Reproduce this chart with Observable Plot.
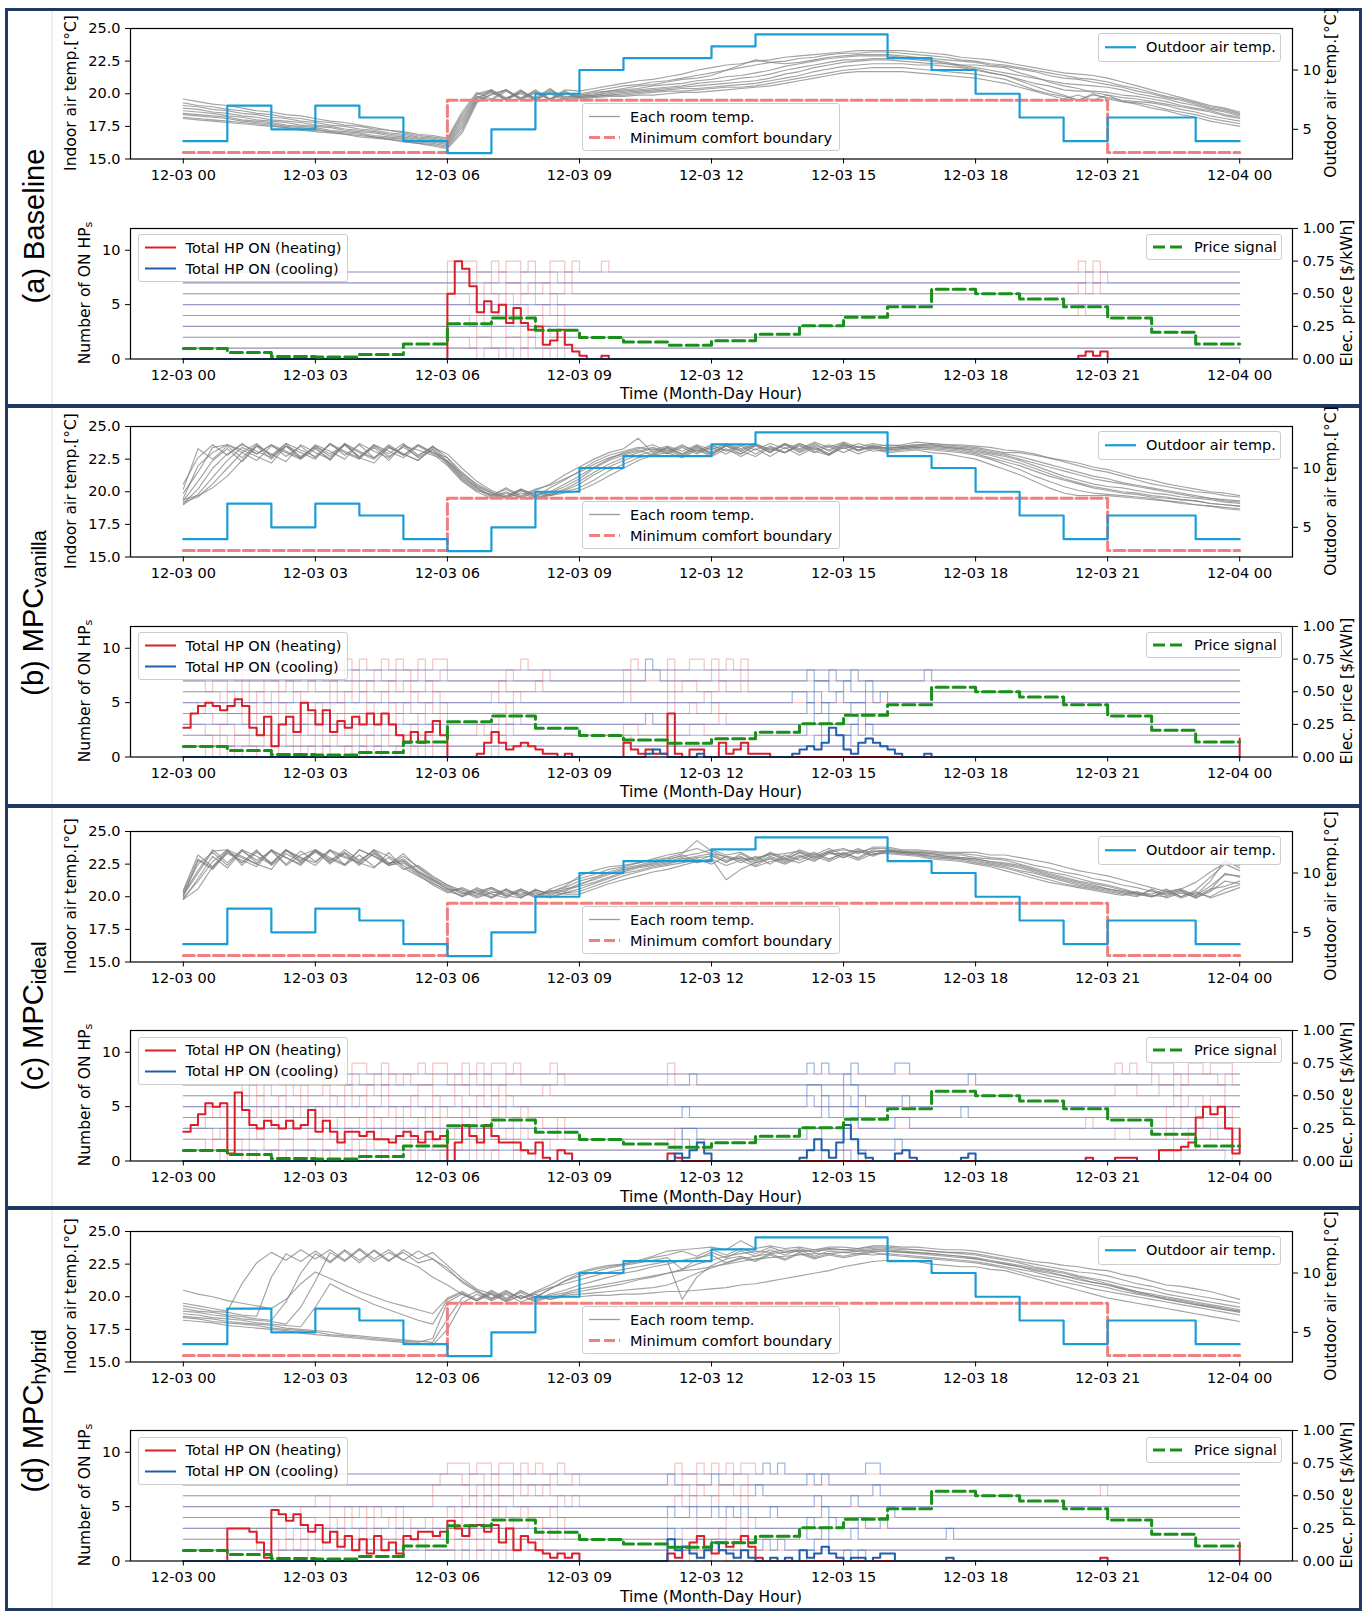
<!DOCTYPE html>
<html lang="en">
<head>
<meta charset="utf-8">
<title>Room temperatures and heat-pump operation under four control strategies</title>
<script src="https://cdn.jsdelivr.net/npm/d3@7"></script>
<script src="https://cdn.jsdelivr.net/npm/@observablehq/plot@0.6"></script>
<style>
  html, body { margin: 0; background: #fff; }
  #fig { position: relative; width: 1372px; height: 1613px; overflow: hidden; font-family: "DejaVu Sans", sans-serif; color: #000; }
  #fig > svg { position: absolute; left: 0; }
  .panel { position: absolute; left: 5px; width: 1357px; box-sizing: border-box; border: 3px solid #1f3864; }
  .rule { position: absolute; left: 51px; width: 2px; background: #eeeeee; }
  .vtext { position: absolute; white-space: nowrap; line-height: 1; transform: translate(-50%, -50%) rotate(-90deg); }
  .tag { font-family: "Liberation Sans", Arial, sans-serif; font-size: 29px; }
  .tag .sub { font-size: 0.7em; vertical-align: -0.12em; }
  .ytitle { font-size: 15.5px; }
  .ytitle .sub { font-size: 0.72em; vertical-align: -0.2em; }
  .xtitle { position: absolute; font-size: 15.5px; line-height: 1; white-space: nowrap; transform: translate(-50%, -50%); }
  .legend { position: absolute; box-sizing: border-box; border: 1px solid #cccccc; border-radius: 3px; background: rgba(255,255,255,0.8); font-size: 14.5px; }
  .legend svg { position: absolute; left: 0; top: 0; }
  .legend .row { position: absolute; left: 47px; height: 18px; line-height: 18px; white-space: nowrap; }
</style>
</head>
<body>
<div id="fig"></div>
<script>
// ---------------------------------------------------------------------------
// Shared signals (hourly values, 12-03 00:00 ... 12-04 00:00)
// ---------------------------------------------------------------------------
const xTicks = [0, 3, 6, 9, 12, 15, 18, 21, 24];
const xTickLabels = ["12-03 00", "12-03 03", "12-03 06", "12-03 09", "12-03 12", "12-03 15", "12-03 18", "12-03 21", "12-04 00"];
const indoorTicks = [15, 17.5, 20, 22.5, 25];
const outdoorTicks = [5, 10];
const countTicks = [0, 5, 10];
const priceTicks = [0, 0.25, 0.5, 0.75, 1];

const outdoorTemp = [4, 7, 5, 7, 6, 4, 3, 5, 8, 10, 11, 11, 12, 13, 13, 13, 11, 10, 8, 6, 4, 6, 6, 4, 4];
const comfortMin = [15.5, 15.5, 15.5, 15.5, 15.5, 15.5, 19.5, 19.5, 19.5, 19.5, 19.5, 19.5, 19.5, 19.5, 19.5, 19.5, 19.5, 19.5, 19.5, 19.5, 19.5, 15.5, 15.5, 15.5, 15.5];
const priceSignal = [0.08, 0.05, 0.02, 0.015, 0.035, 0.115, 0.27, 0.315, 0.22, 0.165, 0.13, 0.105, 0.14, 0.19, 0.255, 0.32, 0.40, 0.535, 0.50, 0.46, 0.40, 0.315, 0.205, 0.115, 0.115];

// ---------------------------------------------------------------------------
// Indoor air temperature of the nine rooms, one value every 20 minutes
// ---------------------------------------------------------------------------
const roomsA = [
  [19.6,19.4,19.2,19.1,18.9,18.7,18.6,18.4,18.3,18.1,17.9,17.8,17.6,17.4,17.2,17.1,16.9,16.8,16.6,18.6,20.1,19.6,20.3,19.7,20.2,19.6,20.3,20.2,20.4,20.6,20.8,21.0,21.1,21.3,21.5,21.8,22.0,22.2,22.3,22.5,22.6,22.8,22.9,23.0,23.1,23.2,23.3,23.3,23.3,23.3,23.2,23.1,23.0,22.8,22.7,22.6,22.4,22.2,22.0,21.8,21.6,21.5,21.4,21.2,20.9,20.6,20.3,20.0,19.7,19.4,19.1,18.9,18.6],
  [19.3,19.1,19.0,18.8,18.7,18.5,18.4,18.2,18.1,17.9,17.8,17.6,17.5,17.3,17.2,17.0,16.8,16.7,16.5,18.4,20.0,20.3,19.5,20.1,19.6,20.3,19.7,20.0,20.2,20.4,20.6,20.7,20.9,21.0,21.2,21.4,21.6,21.8,22.0,22.2,22.4,22.5,22.7,22.8,23.0,23.1,23.1,23.2,23.2,23.1,23.0,22.9,22.8,22.6,22.5,22.3,22.2,22.0,21.8,21.6,21.4,21.2,21.1,20.9,20.6,20.4,20.1,19.8,19.6,19.3,19.0,18.8,18.5],
  [19.1,19.0,18.8,18.7,18.5,18.4,18.2,18.1,17.9,17.8,17.6,17.5,17.3,17.2,17.0,16.9,16.7,16.6,16.4,18.2,19.9,20.2,19.6,20.3,19.5,20.1,19.6,19.9,20.1,20.2,20.4,20.6,20.7,20.9,21.1,21.2,21.4,21.8,22.2,22.6,22.4,22.3,22.4,22.6,22.8,22.9,23.0,23.0,23.0,22.9,22.8,22.7,22.6,22.5,22.4,22.2,22.1,21.9,21.7,21.4,21.2,21.1,20.9,20.7,20.5,20.2,20.0,19.7,19.5,19.2,18.9,18.7,18.4],
  [18.9,18.8,18.6,18.5,18.3,18.2,18.0,17.9,17.8,17.6,17.5,17.3,17.2,17.1,16.9,16.8,16.6,16.5,16.3,18.0,19.8,19.5,20.2,19.6,20.3,19.6,20.0,19.9,20.0,20.2,20.3,20.4,20.6,20.7,20.8,21.0,21.1,21.3,21.4,21.6,21.8,22.1,22.3,22.5,22.7,22.8,22.9,22.9,22.9,22.8,22.7,22.6,22.4,22.2,22.0,21.8,21.6,21.4,21.2,21.0,20.8,20.7,20.6,20.5,20.3,20.0,19.8,19.6,19.3,19.1,18.8,18.6,18.3],
  [18.7,18.6,18.5,18.3,18.2,18.0,17.9,17.8,17.6,17.5,17.4,17.2,17.1,17.0,16.8,16.7,16.5,16.4,16.2,17.8,19.7,20.1,19.5,20.2,19.7,20.4,19.6,19.8,19.9,20.1,20.2,20.3,20.4,20.5,20.6,20.8,20.9,21.0,21.2,21.3,21.5,21.8,22.0,22.2,22.4,22.6,22.6,22.7,22.7,22.7,22.6,22.5,22.3,22.1,21.9,21.6,21.4,21.1,20.8,20.6,20.3,20.2,20.2,20.1,19.9,19.8,19.6,19.4,19.1,18.9,18.7,18.4,18.2],
  [18.5,18.4,18.3,18.2,18.0,17.9,17.8,17.6,17.5,17.4,17.2,17.1,17.0,16.8,16.7,16.6,16.4,16.3,16.1,17.6,19.6,20.3,19.7,20.0,19.5,20.2,19.8,19.8,19.9,20.0,20.1,20.2,20.3,20.4,20.5,20.6,20.7,20.8,20.9,21.0,21.2,21.5,21.7,22.0,22.2,22.4,22.5,22.6,22.6,22.5,22.4,22.3,22.3,22.2,22.2,22.1,22.0,21.6,21.3,20.9,20.6,20.4,20.1,19.9,19.7,19.6,19.4,19.2,19.0,18.8,18.6,18.3,18.1],
  [18.4,18.3,18.2,18.1,17.9,17.8,17.7,17.5,17.4,17.3,17.1,17.0,16.9,16.7,16.6,16.5,16.3,16.2,16.0,17.4,19.5,19.9,20.3,19.5,20.1,19.6,20.2,19.7,19.8,19.9,20.0,20.1,20.2,20.3,20.4,20.4,20.5,20.6,20.7,20.8,21.0,21.2,21.4,21.7,21.9,22.1,22.2,22.3,22.3,22.3,22.2,22.2,22.1,22.0,21.8,21.6,21.4,21.0,20.6,20.2,19.9,19.5,19.9,19.7,19.5,19.4,19.3,19.1,18.8,18.6,18.3,18.1,17.9],
  [18.2,18.1,18.0,17.9,17.8,17.7,17.6,17.4,17.3,17.2,17.1,16.9,16.8,16.7,16.5,16.4,16.2,16.1,15.9,17.2,19.4,20.2,19.6,20.2,19.6,20.0,19.5,19.7,19.8,19.9,19.9,20.0,20.1,20.2,20.2,20.3,20.4,20.5,20.5,20.6,20.8,21.0,21.2,21.4,21.6,21.8,21.9,22.0,22.0,22.0,21.9,21.8,21.7,21.6,21.5,21.3,21.1,20.7,20.3,20.0,19.8,19.5,20.0,19.6,19.4,19.3,19.1,18.8,18.6,18.4,18.1,17.9,17.7],
  [18.1,18.0,17.9,17.8,17.7,17.6,17.5,17.4,17.2,17.1,17.0,16.9,16.7,16.6,16.5,16.3,16.2,16.0,15.8,17.0,19.3,20.0,20.3,19.6,20.1,19.5,20.1,19.6,19.7,19.8,19.8,19.9,19.9,20.0,20.1,20.1,20.2,20.3,20.4,20.5,20.6,20.8,21.0,21.2,21.4,21.6,21.7,21.7,21.7,21.7,21.6,21.5,21.4,21.3,21.2,21.0,20.8,20.5,20.2,19.9,19.6,19.9,19.5,19.9,19.4,19.2,18.9,18.7,18.4,18.2,17.9,17.7,17.5]
];

const roomsB = [
  [20.6,22.6,23.6,22.8,23.7,22.9,23.6,22.7,23.5,22.6,23.7,22.8,23.6,22.6,23.5,22.8,23.6,23.0,22.6,21.5,20.5,19.9,19.6,20.1,19.6,20.3,20.9,21.6,22.3,22.8,23.1,23.4,23.2,23.5,23.1,23.6,23.2,23.7,23.3,23.7,23.2,23.7,23.3,23.8,23.4,23.8,23.4,23.7,23.5,23.6,23.8,23.7,23.6,23.5,23.4,23.2,23.0,23.0,22.8,22.6,22.4,22.2,21.9,21.7,21.4,21.1,20.9,20.6,20.4,20.2,20.0,19.9,19.7],
  [20.2,23.3,22.5,23.5,22.6,23.6,22.8,23.7,22.6,23.5,22.7,23.6,22.7,23.6,22.9,23.7,22.8,23.4,22.9,21.8,20.8,20.1,19.7,20.2,19.8,19.9,20.4,21.0,21.8,22.4,22.8,23.1,23.4,23.0,23.5,23.1,23.6,23.1,23.6,23.2,23.7,23.3,23.7,23.2,23.6,23.3,23.7,23.4,23.6,23.5,23.6,23.7,23.6,23.6,23.5,23.4,23.2,23.1,22.9,22.6,22.3,22.0,21.7,21.5,21.2,20.9,20.6,20.4,20.2,20.0,19.9,19.7,19.6],
  [19.9,21.5,23.4,23.6,23.0,22.4,23.5,23.0,22.5,23.6,23.1,22.5,23.7,23.1,22.6,23.5,23.2,22.8,22.4,21.2,20.3,19.7,20.2,19.6,20.1,20.6,21.3,21.9,22.5,23.0,23.3,24.1,23.0,23.4,22.9,23.5,23.0,23.6,23.2,23.6,23.0,23.7,23.1,23.6,23.2,23.7,23.2,23.5,23.3,23.4,23.5,23.5,23.4,23.3,23.2,23.0,22.8,22.5,22.2,21.9,21.6,21.3,21.0,20.8,20.6,20.4,20.2,20.0,19.8,19.6,19.5,19.3,19.2],
  [19.5,22.0,23.0,23.6,23.2,22.7,22.2,23.5,23.0,22.5,23.7,23.1,22.6,22.2,23.4,22.9,22.4,23.3,22.2,21.0,20.2,19.6,20.0,19.5,20.0,19.7,20.1,20.6,21.3,21.9,22.4,22.8,23.1,23.3,22.8,23.4,22.9,23.5,22.9,23.5,23.0,23.6,23.0,23.5,22.9,23.6,23.1,23.5,23.2,23.3,23.4,23.4,23.3,23.2,23.0,22.8,22.5,22.2,21.8,21.4,21.0,20.7,20.4,20.2,20.0,19.9,19.7,19.6,19.4,19.3,19.1,19.0,18.9],
  [19.3,20.8,22.4,23.3,22.3,23.5,22.5,23.5,22.7,23.4,22.4,23.6,22.6,23.4,22.4,23.6,22.6,23.2,22.1,20.9,20.1,19.8,19.5,20.1,19.6,19.8,20.0,20.3,20.9,21.6,22.1,22.6,22.9,23.2,22.7,23.3,22.8,23.5,23.1,22.7,23.4,23.0,23.6,23.1,22.8,23.5,23.2,23.4,23.1,23.2,23.3,23.2,23.1,23.0,22.8,22.5,22.1,21.7,21.2,20.8,20.4,20.1,19.9,19.8,19.7,19.6,19.5,19.3,19.2,19.0,18.9,18.8,18.7],
  [19.1,20.2,21.8,22.9,23.6,23.1,22.6,23.7,23.2,22.7,23.6,23.0,22.5,23.6,23.1,22.6,23.5,22.9,22.0,20.8,20.0,19.5,19.9,19.6,19.5,19.7,19.9,20.1,20.6,21.2,21.8,22.4,22.8,23.0,22.6,23.2,22.7,23.3,22.7,23.3,22.7,23.4,22.8,23.4,22.8,23.4,22.9,23.3,23.0,23.1,23.2,23.0,22.9,22.7,22.5,22.1,21.7,21.3,20.8,20.3,19.9,19.7,19.7,19.7,19.6,19.5,19.4,19.3,19.1,19.0,18.9,18.7,18.6],
  [19.0,19.8,21.1,22.4,23.4,22.9,23.6,23.1,22.6,23.5,22.9,23.6,23.0,22.5,23.4,22.8,23.6,23.0,22.3,21.1,20.3,19.7,20.3,19.7,20.2,20.5,21.0,21.5,22.1,22.6,22.9,23.2,22.8,23.4,22.9,23.5,22.9,23.6,23.1,23.6,23.1,23.6,23.2,23.7,23.1,23.7,23.2,23.6,23.3,23.5,23.6,23.6,23.5,23.4,23.3,23.1,22.9,22.7,22.4,22.1,21.8,21.5,21.2,21.0,20.7,20.5,20.3,20.1,19.9,19.7,19.5,19.4,19.3],
  [19.2,19.6,20.6,21.8,23.0,23.7,22.7,23.5,22.5,23.3,22.5,23.7,22.6,23.5,22.7,23.4,22.7,23.5,22.6,21.3,20.4,19.9,19.6,20.2,19.7,20.0,20.6,21.2,21.9,22.5,23.0,23.3,23.6,23.1,23.6,23.0,23.5,23.2,22.9,23.6,23.3,23.0,23.7,23.3,22.9,23.6,23.4,23.3,23.4,23.4,23.5,23.6,23.4,23.3,23.1,22.9,22.7,22.4,22.0,21.6,21.2,20.9,20.6,20.4,20.3,20.1,19.9,19.8,19.6,19.5,19.4,19.2,19.1],
  [19.4,19.7,20.3,21.2,22.4,23.5,22.9,22.3,23.6,23.0,22.5,23.7,23.1,22.6,23.6,22.9,22.4,23.5,22.3,21.4,20.6,20.0,19.5,19.9,19.5,19.8,20.2,20.8,21.5,22.1,22.6,23.0,23.3,22.9,23.4,22.9,23.4,22.9,23.5,22.9,23.5,23.0,23.5,23.0,23.5,23.0,23.5,23.1,23.2,23.3,23.4,23.3,23.2,23.1,22.9,22.6,22.3,22.0,21.6,21.2,20.9,20.6,20.3,20.1,19.9,19.8,19.6,19.5,19.4,19.3,19.1,19.0,18.9]
];

const roomsC = [
  [20.5,23.2,22.3,23.6,22.6,23.5,22.5,23.6,22.8,23.5,22.6,23.3,22.4,23.4,22.5,22.9,22.0,21.3,20.8,20.2,20.6,20.0,20.6,20.1,20.5,20.3,20.8,21.6,22.0,22.3,22.4,22.6,22.9,23.2,23.4,23.7,23.3,23.1,22.9,23.0,23.2,23.3,23.5,23.1,23.5,23.7,23.3,23.8,23.8,23.6,23.6,23.5,23.4,23.4,23.4,23.2,23.2,23.0,22.8,22.6,22.3,22.0,21.8,21.6,21.3,21.0,20.7,20.4,20.6,21.1,21.9,22.6,22.4],
  [20.3,22.5,23.4,22.4,23.6,22.6,23.6,22.5,23.5,22.7,23.6,22.4,23.2,22.3,23.0,22.1,22.4,21.6,20.9,20.3,20.1,20.6,20.0,20.5,19.9,20.6,21.0,21.4,21.7,22.1,22.3,22.6,22.8,23.0,23.3,24.3,23.5,23.0,22.8,22.9,23.3,22.9,23.4,23.0,23.4,23.6,23.4,23.7,23.7,23.5,23.5,23.4,23.3,23.3,23.2,23.0,22.9,22.7,22.4,22.2,21.9,21.7,21.4,21.2,20.9,20.7,20.4,20.2,20.5,20.1,21.2,22.8,22.2],
  [20.1,21.8,23.5,23.6,23.1,22.5,23.5,23.0,22.4,23.6,23.0,22.5,23.6,23.1,22.4,22.8,21.9,21.2,20.6,20.0,20.7,20.2,19.9,20.6,20.1,20.5,20.4,20.9,21.4,21.8,22.1,22.3,22.5,22.7,23.0,22.6,22.9,21.3,22.1,22.6,22.9,22.5,23.0,23.4,22.9,23.3,23.7,23.2,23.6,23.4,23.3,23.2,23.1,23.0,22.9,22.7,22.6,22.4,22.1,21.8,21.5,21.2,21.0,20.8,20.5,20.3,20.1,20.0,20.4,19.9,20.5,21.8,21.5],
  [20.0,22.8,22.1,23.4,23.0,22.5,22.1,23.5,23.0,22.6,23.6,23.1,22.6,22.2,23.4,22.2,21.6,21.0,20.5,20.6,20.0,20.4,20.1,19.9,20.5,20.2,20.6,20.8,21.1,21.5,21.9,22.2,22.4,22.6,22.9,23.1,23.3,22.8,23.1,22.4,23.0,22.6,23.1,22.7,23.4,23.0,23.5,23.1,23.5,23.4,23.3,23.1,23.0,22.9,22.8,22.6,22.4,22.2,21.9,21.6,21.3,21.0,20.8,20.6,20.4,20.2,20.0,20.4,19.9,20.3,20.0,20.6,20.9],
  [19.8,21.4,23.1,22.2,23.5,22.8,23.5,22.4,23.2,23.6,22.8,23.4,22.5,23.3,22.4,22.6,21.8,21.1,20.4,20.1,20.5,19.9,20.6,20.0,20.3,19.9,20.3,20.4,20.8,21.2,21.6,21.9,22.2,22.4,22.6,22.9,22.5,23.1,22.6,23.1,22.5,23.2,22.8,23.3,22.8,23.4,22.9,23.5,23.4,23.3,23.2,23.0,22.9,22.8,22.6,22.4,22.2,21.9,21.6,21.3,21.0,20.8,20.6,20.4,20.2,20.0,20.6,20.1,20.5,19.9,20.4,21.2,21.0],
  [20.2,22.0,23.6,22.6,23.6,23.1,22.5,23.6,23.0,22.4,23.5,23.0,22.6,23.6,23.1,22.4,21.7,20.9,20.3,20.7,20.2,20.7,20.1,20.4,20.0,20.4,20.2,20.2,20.6,21.0,21.3,21.6,21.9,22.1,22.4,22.7,22.9,22.4,22.8,22.3,22.7,22.9,22.6,23.1,22.7,23.2,22.8,23.3,23.3,23.2,23.1,22.9,22.8,22.7,22.5,22.3,22.0,21.7,21.4,21.1,20.9,20.7,20.5,20.3,20.1,20.4,20.0,20.5,20.0,20.4,19.9,20.3,20.7],
  [19.9,21.2,22.7,23.6,22.4,23.4,22.6,23.6,22.6,23.4,22.7,23.6,22.8,23.5,22.5,23.3,22.2,21.4,20.7,20.0,20.4,20.7,20.2,20.6,20.1,20.4,20.7,21.2,21.5,21.9,22.2,22.4,22.7,22.9,23.1,23.3,23.6,23.2,23.4,22.8,23.4,23.0,23.6,23.2,23.7,23.2,23.6,23.4,23.6,23.4,23.4,23.3,23.2,23.2,23.0,22.9,22.8,22.5,22.2,21.9,21.7,21.4,21.1,20.9,20.6,20.3,20.2,20.6,20.0,20.5,21.5,22.5,22.0],
  [20.4,22.9,22.2,23.5,22.6,23.6,22.4,23.3,22.7,23.6,22.5,23.4,22.7,23.6,22.6,22.7,21.9,21.3,20.6,20.4,19.9,20.3,20.5,19.9,20.6,20.1,20.5,21.0,21.3,21.7,22.0,22.3,22.6,22.8,23.2,22.7,23.2,22.6,23.3,22.7,23.3,22.8,23.4,22.9,23.5,23.0,23.5,23.2,23.5,23.3,23.2,23.1,23.0,22.9,22.7,22.5,22.3,22.0,21.8,21.5,21.2,20.9,20.7,20.5,20.3,20.1,20.5,19.9,20.3,20.0,20.6,20.8,21.2],
  [19.8,20.6,22.3,23.3,22.8,22.3,23.6,23.0,22.5,23.5,22.9,22.4,23.6,23.1,22.5,23.1,22.3,21.5,20.9,20.5,20.3,19.9,20.4,20.2,20.4,20.0,20.3,20.6,21.0,21.4,21.8,22.0,22.3,22.5,22.8,23.0,23.1,22.7,23.0,22.6,23.1,22.7,23.2,22.8,23.3,23.3,23.0,23.6,23.5,23.5,23.4,23.3,23.1,23.0,22.9,22.7,22.5,22.3,22.0,21.7,21.4,21.1,20.9,20.6,20.4,20.2,20.0,20.3,20.6,20.1,20.8,21.7,21.6]
];

const roomsD = [
  [20.5,20.2,20.0,19.7,19.5,19.3,19.1,19.8,21.0,21.9,21.4,20.9,20.4,20.0,19.6,19.3,19.0,18.7,19.9,20.4,19.8,20.5,19.9,20.4,20.0,20.6,21.2,21.8,22.1,22.3,22.5,22.8,23.1,23.5,23.6,23.7,23.8,23.6,24.3,23.7,23.9,23.7,23.8,23.6,23.8,23.8,23.7,23.9,23.9,23.8,23.8,23.7,23.6,23.6,23.5,23.3,23.1,22.9,22.7,22.6,22.4,22.3,22.1,22.0,21.7,21.5,21.2,20.9,20.8,20.6,20.4,20.1,19.8],
  [19.5,19.3,19.1,18.9,21.0,22.6,23.4,22.8,23.6,22.9,23.6,22.8,23.7,22.9,23.6,22.8,23.5,22.9,22.0,21.2,20.5,19.9,20.5,19.8,20.4,20.9,21.5,21.9,22.2,22.4,22.5,22.7,23.0,23.2,23.5,23.1,23.6,23.2,23.7,23.3,23.8,23.4,23.7,23.4,23.7,23.6,23.5,23.6,23.7,23.6,23.6,23.5,23.4,23.4,23.3,23.1,22.9,22.7,22.5,22.3,22.1,21.9,21.8,21.6,21.3,21.0,20.8,20.5,20.3,20.1,19.9,19.7,19.5],
  [19.3,19.1,18.9,18.8,18.6,18.5,21.5,23.3,22.7,23.5,22.7,23.6,22.8,23.5,22.7,23.6,22.9,23.4,22.4,21.4,20.6,20.2,19.7,20.5,19.9,20.6,21.2,21.6,21.9,22.2,22.4,22.6,22.8,23.0,22.1,22.9,23.4,23.0,23.5,23.1,23.6,23.2,23.6,23.1,23.5,23.4,23.3,23.5,23.5,23.4,23.3,23.2,23.1,23.0,22.9,22.7,22.5,22.3,22.0,21.8,21.6,21.3,21.1,20.9,20.6,20.3,20.1,19.8,19.6,19.4,19.2,19.0,18.8],
  [19.1,18.9,18.8,18.6,18.5,18.3,18.2,19.6,21.8,23.3,22.6,23.5,22.6,23.6,22.8,23.4,22.6,22.9,22.2,21.1,20.4,19.8,20.4,19.9,20.3,20.7,21.0,21.3,21.6,21.9,22.1,22.3,22.5,22.7,19.8,21.5,22.4,22.9,23.1,22.8,23.3,22.9,23.4,23.0,23.3,23.1,23.3,23.2,23.3,23.2,23.1,23.0,22.9,22.8,22.7,22.5,22.3,22.1,21.9,21.6,21.4,21.1,20.9,20.7,20.4,20.2,20.0,19.8,19.6,19.4,19.2,19.0,18.9],
  [18.9,18.8,18.6,18.5,18.3,18.2,18.1,17.9,19.2,21.2,23.4,22.7,23.6,22.7,23.4,22.8,22.3,21.5,20.9,20.2,19.7,20.4,19.8,20.3,19.8,20.2,20.5,20.9,21.2,21.5,21.8,22.0,22.3,22.5,22.8,23.0,23.2,22.6,23.0,22.7,23.2,22.8,23.3,22.9,23.2,23.0,23.2,23.4,23.2,23.1,23.0,22.9,22.8,22.7,22.6,22.4,22.2,21.9,21.6,21.4,21.1,20.9,20.6,20.4,20.2,20.0,19.8,19.6,19.4,19.2,19.0,18.8,18.6],
  [18.7,18.6,18.4,18.3,18.2,18.0,17.9,17.8,17.7,19.2,21.0,20.4,19.9,19.4,19.0,18.6,18.2,17.9,19.8,20.3,19.7,20.2,19.6,20.1,19.7,20.1,20.3,20.6,20.8,21.0,21.2,21.4,21.6,21.8,22.0,22.1,22.3,22.5,22.7,22.9,23.0,23.1,23.2,23.3,23.3,23.4,23.5,23.5,23.5,23.4,23.4,23.3,23.2,23.1,23.0,22.8,22.6,22.4,22.2,22.0,21.8,21.5,21.3,21.0,20.7,20.4,20.2,20.0,19.8,19.6,19.4,19.2,19.0],
  [18.5,18.4,18.3,18.1,18.0,17.9,17.8,17.6,17.5,17.4,17.3,17.1,17.0,16.9,16.8,16.7,16.6,16.5,18.3,19.9,20.4,19.8,20.3,19.9,20.2,19.8,20.2,20.4,20.6,20.8,21.0,21.3,21.5,21.8,22.1,22.5,22.8,23.1,23.3,23.5,23.4,23.6,23.5,23.6,23.7,23.6,23.7,23.8,23.8,23.7,23.6,23.5,23.4,23.3,23.2,23.0,22.8,22.6,22.3,22.1,21.9,21.6,21.4,21.2,20.9,20.7,20.5,20.2,20.0,19.8,19.6,19.4,19.2],
  [18.4,18.3,18.1,18.0,17.9,17.8,17.6,17.5,17.4,17.3,17.1,17.0,16.9,16.8,16.7,16.6,16.5,16.8,19.6,20.2,19.7,20.3,19.7,20.1,19.6,20.0,20.1,20.2,20.3,20.4,20.5,20.6,20.7,20.9,21.3,21.8,22.2,22.6,22.9,23.1,23.3,23.4,23.5,23.5,23.6,23.6,23.6,23.7,23.6,23.5,23.4,23.3,23.2,23.1,22.9,22.7,22.5,22.3,22.1,21.9,21.6,21.4,21.1,20.9,20.6,20.4,20.1,19.9,19.7,19.5,19.3,19.1,18.9],
  [18.2,18.1,18.0,17.8,17.7,17.6,17.5,17.4,17.2,17.1,17.0,16.9,16.8,16.7,16.6,16.5,16.4,16.3,17.5,19.5,20.2,19.7,20.2,19.6,20.0,19.8,20.0,20.0,20.1,20.1,20.2,20.2,20.3,20.4,20.4,20.5,20.6,20.7,20.9,21.0,21.2,21.4,21.6,21.8,22.0,22.3,22.5,22.7,22.8,22.8,22.7,22.5,22.4,22.3,22.3,22.1,22.0,21.7,21.4,21.1,20.8,20.5,20.2,19.9,19.7,19.5,19.3,19.1,18.9,18.7,18.5,18.3,18.1]
];

// ---------------------------------------------------------------------------
// Heat-pump state of each room: hour -> six 10-minute states
// ("h" heating, "c" cooling, "." off); hours not listed are off
// ---------------------------------------------------------------------------
const hpStateA = [
  {6:"hhhh.h",7:"h.h.h.",8:".h.h.."},
  {6:"hhh.hh",7:"..hh.h",8:"...h.."},
  {6:"hhhh..",7:"hh..h.",8:"hh...."},
  {6:"hhh.h.",7:"hh.h..",8:"h..h.."},
  {6:"hhhhh.",7:".h.hh.",8:".h.h..",20:"..h..."},
  {6:"hhh..h",7:"h.h.hh",8:"..h..."},
  {6:"hhhh.h",7:"..hh.h",8:".h..h.",20:"..h.h."},
  {6:"hhh.hh",7:".h..hh",8:"..h.h.",20:"...h.h"},
  {6:"hhhh..",7:"h.hh.h",8:"..hh.h",9:"...h..",20:"..h.h."}
];
const hpStateB = [
  {0:"hhh.h.",1:"h.hh..",2:"h..h.h",3:".h..h.",4:"h.h..h",5:".h.h..",7:"h.....",11:"h....."},
  {0:"hhhh.h",1:".hh..h",2:".h.h..",3:"h.h..h",4:".h.h..",5:"h..h..",7:".h....",10:"h.....",11:"h.....",14:"..c...",15:"c....."},
  {0:"hhh..h",1:"h..h.h",2:"..h.h.",3:"h..h.h",4:"..h.h.",5:".h..h.",6:"....h.",7:"h.h...",10:"hh....",11:"h..hh.",14:".cc...",15:".c.c.."},
  {0:"hhhh..",1:"hh.h..",2:"h.h..h",3:".h.h..",4:"h..h.h",5:"..h..h",7:".h.h..",10:"...c..",11:"h.....",12:".h....",14:"..cc..",15:"..c..."},
  {0:"hh.hhh",1:"..hh.h",2:".h..h.",3:"h.hh..",4:".h..h.",5:"h..h.h",7:"..h...",11:"h..h..",12:"h.....",14:".c.c..",15:".cc..."},
  {0:"hhhhh.",1:"h.h.h.",2:"h..h..",3:"..h.h.",4:"h..h..",5:".h..h.",7:"h..h..",10:"h.....",11:"h....h",13:".....c",14:"c.c..c",15:"...c.c"},
  {0:"hhh.hh",1:"..h..h",2:"h.h..h",3:"..h..h",4:".h..h.",5:"h..h..",7:".h....",8:"h.....",10:"h.....",11:"h.hh..",12:".h..h.",14:"..cc..",15:"c..c.."},
  {0:"hhhhhh",1:"h.h..h",2:".h..h.",3:"h..h.h",4:"..h..h",5:"h.h..h",7:"..h...",8:".h....",10:"h..cc.",11:"h.....",12:"h...h.",14:".c..c.",15:".c....",16:".....c"},
  {0:"hhhhhh",1:"hh..hh",2:"..h..h",3:".h..h.",4:"h..h.h",5:"..h.hh",7:"....h.",10:".h.c..",11:"h..hh.",12:"h.h.h."}
];
const hpStateC = [
  {0:"hhhhh.",1:"hh.h..",2:"h.h..h",3:".h..h.",4:"h..h..",5:"h.h..h",6:".hh.h.",7:"h..h..",8:"h.....",14:".cc...",15:"c.c...",22:".hh.hh",23:"hhhh.h"},
  {0:"hhh.hh",1:".h.hh.",2:".hh..h",3:"h..h.h",4:".h..h.",5:".h.h..",6:"..h.h.",7:".hh...",8:".h....",11:"h.c.c.",14:"..c...",15:"cc....",16:".c....",22:"...hh.",23:"hhhhh."},
  {0:"hhhh.h",1:"h..h.h",2:"h..hh.",3:".h..h.",4:"..h..h",5:".h..h.",6:".h.h.h",7:"..h.h.",8:"...h..",11:".hcc..",14:".cc...",15:"c.....",21:".hh...",22:"..h..h",23:"hh.hh."},
  {0:"hh.hhh",1:".hh..h",2:".h.hh.",3:"h..h..",4:"h.h..h",5:"..h.h.",6:"..hh..",7:"h..h..",8:"h..h..",15:".c....",16:".cc...",20:"...h..",22:"..h.hh",23:".hh.h."},
  {0:"hhhh.h",1:".h..h.",2:"h.h.h.",3:"h.hh..",4:".h..h.",5:"h..h.h",6:"..h.hh",7:".h..h.",11:"..c...",14:"...c..",15:"cc....",17:"....c.",22:"..hh..",23:"hhhh.h"},
  {0:"hhhhhh",1:"h.h.h.",2:".h..h.",3:"..h.h.",4:"h..h..",5:".h..h.",6:".h..h.",7:"h.h...",14:".c.c..",15:"c.c...",16:"..c...",22:"...h.h",23:"h.hh.."},
  {0:"hhhhhh",1:"hh.h.h",2:"..h.h.",3:".h..h.",4:".h.h..",5:"..hh..",6:".hh..h",7:".h....",8:".h....",14:".cc...",15:"cc....",21:".hhh..",22:".hh.hh",23:"hhhh.."},
  {0:"hhhhhh",1:"hhh.hh",2:"h.h..h",3:"h.h..h",4:"..h.h.",5:"h...hh",6:".h.h.h",7:"..hh..",8:"...h..",11:"h..c..",15:"c.....",17:".....c",22:"h..h.h",23:"hhh.h."},
  {0:"hhhhhh",1:"hhhhh.",2:"h.hh.h",3:"..hh.h",4:"h..h..",5:"..h.hh",6:"..h.h.",7:"hh.h..",8:"..h...",11:"h.....",14:".c.c..",15:".c....",16:".cc...",21:".h.h..",22:"hhh..h",23:"h.hhh."}
];
const hpStateD = [
  {2:".hhhh.",5:"...hhh",6:"h.h.h.",7:"h.h...",8:".hh...",11:"..h.h.",12:"hh.h..",14:".c....",15:"c.c..."},
  {1:"hhhh..",2:"h.h.h.",3:"h..h..",4:"h..h.h",5:"..h...",6:".h.h.h",7:"..h.h.",8:"h.....",11:"cc..c.",12:"cc.h..",13:".c.c..",14:"..cc.."},
  {1:"....hh",2:"hh.h.h",3:".h.h..",4:"h.h..h",5:".h..h.",6:"h..h.h",7:"h.h...",8:".h.h..",11:"c.hh..",12:".h..h.",14:"c..c..",15:".c....",17:"..c..."},
  {2:"..hhhh",3:"..h.h.",4:".h..h.",5:"h..h..",6:".h..h.",7:"..h..h",8:"h..h..",11:"hhhh..",12:"..hh.h",14:".c..c.",15:"..c..c"},
  {2:"....hh",3:"hh..h.",4:"h.h..h",6:"h.hh.h",7:".h..h.",8:"..h...",11:"c..c..",12:"c.c.c.",13:"..c...",14:"...c..",16:"c....."},
  {3:"hh....",5:"....hh",6:"hh.h.h",7:".hh...",8:"...h.h",11:".h.h..",12:"h...h.",14:"..c...",15:".c...."},
  {5:"....hh",6:"hhh.h.",7:"h..h.h",8:".h....",11:"..h.h.",12:".hh.h.",13:"c.....",15:"....c.",20:".....h"},
  {5:".....h",6:"hh.hh.",7:"h..h..",8:"..h..h",11:"c.hh..",12:"c..hh.",14:".c.c.."},
  {6:"hhh.hh",7:".hh.h.",8:"h..h..",11:".h..h.",12:"h.h.hh",13:".c.c..",15:"...cc."}
];

// ---------------------------------------------------------------------------
// Number of heat pumps ON, 10-minute values given as runs [start, values...];
// every slot that is not listed is zero
// ---------------------------------------------------------------------------
const heatTotalA = [
  ["06:00", [6,9,8.3,6.7,4.3,5.3,4.3,5.0,3.3,4.7,3.3,2.7,3.0,1.3,1.7,2.7,1.3,0.7,0.3]],
  ["09:30", [0.3]],
  ["20:20", [0.3,0.7,0.3,0.7]]
];
const coolTotalA = [];

const heatTotalB = [
  ["00:00", [2.7,4.0,4.7,5.0,4.7,4.3, 4.7,5.3,4.7,2.7,2.0,3.7, 1.0,3.0,3.7,2.3,5.0,4.3, 3.0,4.3,2.3,3.3,2.7,3.7, 3.0,4.0,3.0,4.0,3.0,2.0, 1.3,2.3,1.3,2.3,3.3,2.0]],
  ["06:40", [0.3,1.3,2.3,1.3,0.7,1.0,1.3,1.0,0.7,0.3,0.3,0,0.3]],
  ["10:00", [1.3,0.7,0.3,0.7,0.3,0.3,4.0,0.3,0,0.7,0.7,0,0,1.3,0.3,0.7,1.3,0.3,0.3,0.3]],
  ["24:00", [1.7]]
];
const coolTotalB = [
  ["10:30", [0.3,0.7,0.3]],
  ["11:40", [0.3]],
  ["13:50", [0.3,0.7,1.0,0.7,1.3,2.7,2.0,0.7,0.3,1.3,1.7,1.3,1.0,0.7,0.3]],
  ["16:50", [0.3]]
];

const heatTotalC = [
  ["00:00", [2.7,3.3,4.3,5.3,5.0,5.3, 0.7,6.3,4.7,3.3,3.0,3.7, 3.3,3.0,3.7,3.0,3.3,4.7, 2.7,3.7,2.7,1.7,2.7,2.7, 2.3,2.7,2.0,2.0,1.7,2.3, 2.7,2.3,1.7,2.7,2.0,2.3, 0,1.7,3.3,2.3,1.7,3.3, 2.3,1.7,1.7,1.7,1.0,0.7, 1.7,0.3,0,1.0,0.7]],
  ["11:00", [0.7,0.3]],
  ["20:30", [0.3]],
  ["21:10", [0.3,0.3,0.3]],
  ["22:10", [1.0,1.0,1.0,1.3,1.7,4.0,5.0,4.3,5.0,3.0,0.7,3.0]]
];
const coolTotalC = [
  ["11:10", [0.7,0.3,1.0,1.7,0.7]],
  ["14:00", [0.3,1.0,2.0,1.0,0.3,1.7,3.3,2.0,0.7,0.3]],
  ["16:10", [0.7,1.0,0.3]],
  ["17:40", [0.3,0.7]]
];

const heatTotalD = [
  ["01:00", [3.0,3.0,3.0,2.7,1.7,0.3, 4.7,4.3,3.7,4.3,3.3,2.7, 3.3,1.7,2.7,1.3,2.3,1.0, 2.0,0.7,2.3,1.0,1.7,0.7, 2.3,2.0,2.7,2.7,2.3,2.7, 3.7,3.0,2.3,3.3,3.3,2.7, 3.3,1.7,3.0,1.0,2.3,1.7, 1.0,0.7,0.3,0.7,0.3,0.7]],
  ["11:00", [0.7,0.3,1.3,1.7,2.3,1.3,0.7,1.7,1.3,1.7,2.3,1.3,0.3]],
  ["20:50", [0.3]],
  ["24:00", [1.7]]
];
const coolTotalD = [
  ["11:00", [2.0,1.0,1.3,0.7,0.3,1.0,1.7,1.0,0.7,0.3,1.0,0.3]],
  ["13:20", [0.3,0,0.3,0,1.0,0.3,0.7,1.3,0.7,0.3,0,0.3,0.3,0,0.3,0.7,0.7]],
  ["17:20", [0.3]]
];

const panels = [
  {tag: "(a) Baseline", sub: "", rooms: roomsA, hpState: hpStateA, heat: heatTotalA, cool: coolTotalA},
  {tag: "(b) MPC", sub: "vanilla", rooms: roomsB, hpState: hpStateB, heat: heatTotalB, cool: coolTotalB},
  {tag: "(c) MPC", sub: "ideal", rooms: roomsC, hpState: hpStateC, heat: heatTotalC, cool: coolTotalC},
  {tag: "(d) MPC", sub: "hybrid", rooms: roomsD, hpState: hpStateD, heat: heatTotalD, cool: coolTotalD}
];

// ---------------------------------------------------------------------------
// Page geometry
// ---------------------------------------------------------------------------
const WIDTH = 1372, M_LEFT = 130, M_RIGHT = 80, M_TOP = 20, M_BOTTOM = 50, FRAME_H = 130.5;
const xDomain = [-1.2, 25.2];
const layout = [
  {boxTop: 8, boxH: 399, tempTop: 27.5, hpTop: 227.5, tagY: 226},
  {boxTop: 405, boxH: 402, tempTop: 425.7, hpTop: 625.7, tagY: 613},
  {boxTop: 805, boxH: 404, tempTop: 830.7, hpTop: 1030, tagY: 1016},
  {boxTop: 1207, boxH: 404, tempTop: 1230.7, hpTop: 1430, tagY: 1411}
];
const colors = {
  room: "#7f7f7f", comfort: "#f08080", outdoor: "#1a9cd6",
  heatRoom: "#ee8888", coolRoom: "#3a6fc0", heat: "#dc1e28", cool: "#1f5fad", price: "#1a8f1a"
};

const fig = document.getElementById("fig");

// ---------------------------------------------------------------------------
// Data helpers
// ---------------------------------------------------------------------------
const hourly = vals => vals.map((v, h) => ({t: h, v}));
const roomPoints = rooms => rooms.flatMap((vals, r) => vals.map((v, i) => ({t: i / 3, v, r})));

function stateLines(spec, mode) {
  const out = [];
  spec.forEach((hours, r) => {
    const slots = d3.range(24).flatMap(h => (hours[h] ?? "......").split(""));
    for (let k = 0; k <= 144; k++) {
      const s = slots[Math.min(k, 143)];
      out.push({t: k / 6, y: r + (s === mode ? 1 : 0), r});
    }
  });
  return out;
}

function runsSeries(runs) {
  const v = new Array(145).fill(0);
  for (const [start, vals] of runs) {
    const [h, m] = start.split(":").map(Number);
    const k0 = h * 6 + m / 10;
    vals.forEach((x, j) => { v[k0 + j] = x; });
  }
  return v.map((y, k) => ({t: k / 6, y}));
}

// ---------------------------------------------------------------------------
// Drawing helpers
// ---------------------------------------------------------------------------
const plotStyle = {fontFamily: '"DejaVu Sans", sans-serif', fontSize: "14.5px", background: "transparent", overflow: "visible", color: "#000"};

function layer(yDomain, marks, showX) {
  return Plot.plot({
    width: WIDTH, height: M_TOP + FRAME_H + M_BOTTOM,
    marginTop: M_TOP, marginBottom: M_BOTTOM, marginLeft: M_LEFT, marginRight: M_RIGHT,
    x: showX ? {domain: xDomain} : {domain: xDomain, axis: null},
    y: {domain: yDomain},
    style: plotStyle,
    marks
  });
}

function place(svg, frameTop) {
  svg.style.top = (frameTop - M_TOP) + "px";
  fig.appendChild(svg);
}

const xAxis = () => Plot.axisX({ticks: xTicks, tickFormat: d => xTickLabels[xTicks.indexOf(d)], tickSize: 5, tickPadding: 6, label: null});
const yAxis = (anchor, ticks, fmt) => Plot.axisY({anchor, ticks, tickFormat: fmt, tickSize: 5, tickPadding: 5, label: null});

function div(cls, text) {
  const d = document.createElement("div");
  d.className = cls;
  if (text) d.textContent = text;
  return d;
}

function vText(cls, x, y, parts) {
  const d = div("vtext " + cls);
  d.style.left = x + "px";
  d.style.top = y + "px";
  for (const [text, sub] of parts) {
    if (sub) { const s = document.createElement("span"); s.className = "sub"; s.textContent = text; d.appendChild(s); }
    else d.appendChild(document.createTextNode(text));
  }
  fig.appendChild(d);
}

function legend(x, y, w, h, rows) {
  const box = div("legend");
  Object.assign(box.style, {left: x + "px", top: y + "px", width: w + "px", height: h + "px"});
  const svg = d3.create("svg").attr("width", w).attr("height", h);
  rows.forEach((row, i) => {
    const cy = rows.length === 1 ? h / 2 - 1 : 12.5 + 21 * i;
    svg.append("line").attr("x1", 6).attr("x2", 37).attr("y1", cy).attr("y2", cy)
      .attr("stroke", row.color).attr("stroke-width", row.width)
      .attr("stroke-dasharray", row.dash || null);
    const label = div("row", row.text);
    label.style.top = (cy - 9) + "px";
    box.appendChild(label);
  });
  box.prepend(svg.node());
  fig.appendChild(box);
}

// ---------------------------------------------------------------------------
// Panels
// ---------------------------------------------------------------------------
panels.forEach((p, i) => {
  const L = layout[i];

  const box = div("panel");
  box.style.top = L.boxTop + "px";
  box.style.height = L.boxH + "px";
  fig.appendChild(box);
  const rule = div("rule");
  rule.style.top = (L.boxTop + 3) + "px";
  rule.style.height = (L.boxH - 6) + "px";
  fig.appendChild(rule);

  // Indoor temperatures and comfort boundary (left scale)
  place(layer([15, 25], [
    Plot.line(roomPoints(p.rooms), {x: "t", y: "v", z: "r", stroke: colors.room, strokeWidth: 1.15, strokeOpacity: 0.72}),
    Plot.line(hourly(comfortMin), {x: "t", y: "v", curve: "step-after", stroke: colors.comfort, strokeWidth: 3, strokeDasharray: "11,4"}),
    Plot.frame({stroke: "#000", strokeWidth: 1.2}),
    xAxis(),
    yAxis("left", indoorTicks, d => d.toFixed(1))
  ], true), L.tempTop);

  // Outdoor temperature (right scale)
  place(layer([2.5, 13.5], [
    Plot.line(hourly(outdoorTemp), {x: "t", y: "v", curve: "step-after", stroke: colors.outdoor, strokeWidth: 2.2}),
    yAxis("right", outdoorTicks, d => String(d))
  ], false), L.tempTop);

  // Heat-pump states and totals (left scale)
  place(layer([0, 12], [
    Plot.line(stateLines(p.hpState, "h"), {x: "t", y: "y", z: "r", curve: "step-after", stroke: colors.heatRoom, strokeOpacity: 0.5, strokeWidth: 1.2}),
    Plot.line(stateLines(p.hpState, "c"), {x: "t", y: "y", z: "r", curve: "step-after", stroke: colors.coolRoom, strokeOpacity: 0.5, strokeWidth: 1.2}),
    Plot.line(runsSeries(p.heat), {x: "t", y: "y", curve: "step-after", stroke: colors.heat, strokeWidth: 2}),
    Plot.line(runsSeries(p.cool), {x: "t", y: "y", curve: "step-after", stroke: colors.cool, strokeWidth: 2}),
    Plot.frame({stroke: "#000", strokeWidth: 1.2}),
    xAxis(),
    yAxis("left", countTicks, d => String(d))
  ], true), L.hpTop);

  // Electricity price (right scale)
  place(layer([0, 1], [
    Plot.line(hourly(priceSignal), {x: "t", y: "v", curve: "step-after", stroke: colors.price, strokeWidth: 3, strokeDasharray: "12,5"}),
    yAxis("right", priceTicks, d => d.toFixed(2))
  ], false), L.hpTop);

  // Titles
  vText("tag", 34, L.tagY, p.sub ? [[p.tag, false], [p.sub, true]] : [[p.tag, false]]);
  vText("ytitle", 72, L.tempTop + FRAME_H / 2, [["Indoor air temp.[°C]", false]]);
  vText("ytitle", 1332, L.tempTop + FRAME_H / 2, [["Outdoor air temp.[°C]", false]]);
  vText("ytitle", 86, L.hpTop + FRAME_H / 2, [["Number of ON HP", false], ["s", true]]);
  vText("ytitle", 1348, L.hpTop + FRAME_H / 2, [["Elec. price [$/kWh]", false]]);
  const xt = div("xtitle", "Time (Month-Day Hour)");
  xt.style.left = "711px";
  xt.style.top = (L.hpTop + FRAME_H + 37) + "px";
  fig.appendChild(xt);

  // Legends
  legend(1098, L.tempTop + 5.5, 183, 28.5, [
    {color: colors.outdoor, width: 2.2, text: "Outdoor air temp."}
  ]);
  legend(582, L.tempTop + 75.5, 258, 48, [
    {color: "#9a9a9a", width: 1.3, text: "Each room temp."},
    {color: colors.comfort, width: 3, dash: "11,4", text: "Minimum comfort boundary"}
  ]);
  legend(137.5, L.hpTop + 6.5, 210.5, 48, [
    {color: colors.heat, width: 2, text: "Total HP ON (heating)"},
    {color: colors.cool, width: 2, text: "Total HP ON (cooling)"}
  ]);
  legend(1146, L.hpTop + 6.5, 136, 26, [
    {color: colors.price, width: 3, dash: "12,5", text: "Price signal"}
  ]);
});
</script>
</body>
</html>
